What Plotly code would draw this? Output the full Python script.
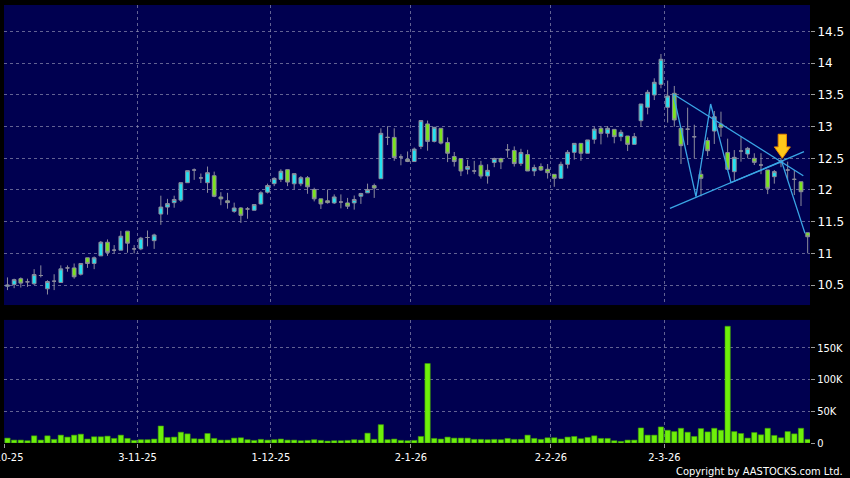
import plotly.graph_objects as go

# ---------------- data ----------------
open_ = [10.48, 10.51, 10.60, 10.55, 10.52, 10.65, 10.44, 10.56, 10.54, 10.77,
         10.77, 10.67, 10.93, 10.84, 10.96, 11.175, 11.05, 11.05, 11.35, 11.07,
         11.07, 11.25, 11.20, 11.62, 11.73, 11.80, 11.84, 12.115, 12.315, 12.19,
         12.115, 12.225, 11.89, 11.83, 11.663, 11.716, 11.70, 11.68, 11.78, 11.965,
         12.10, 12.167, 12.321, 12.098, 12.098, 12.194, 12.008, 11.86, 11.83, 11.796,
         11.81, 11.796, 11.796, 11.902, 11.955, 12.07, 12.178, 12.83, 12.83, 12.52,
         12.485, 12.449, 12.687, 13.043, 12.767, 12.974, 12.75, 12.528, 12.497, 12.327,
         12.30, 12.39, 12.22, 12.433, 12.497, 12.634, 12.624, 12.417, 12.56, 12.30,
         12.37, 12.327, 12.247, 12.184, 12.405, 12.594, 12.736, 12.58, 12.80, 12.973,
         12.894, 12.957, 12.842, 12.852, 12.72, 13.094, 13.305, 13.50, 13.668, 13.305,
         13.526, 12.973, 12.96, 12.84, 12.247, 12.78, 12.93, 13.04, 12.59, 12.289,
         12.615, 12.568, 12.50, 12.394, 12.315, 12.21, 12.43, 12.315, 12.168, 12.13,
         11.325]
high = [10.62, 10.60, 10.62, 10.60, 10.75, 10.81, 10.575, 10.67, 10.81, 10.81,
        10.84, 10.84, 10.93, 10.95, 11.195, 11.22, 11.13, 11.355, 11.35, 11.13,
        11.26, 11.36, 11.31, 11.91, 11.86, 11.91, 12.115, 12.305, 12.34, 12.26,
        12.37, 12.29, 11.965, 11.955, 11.80, 11.73, 11.73, 11.77, 11.98, 12.10,
        12.20, 12.327, 12.321, 12.258, 12.22, 12.22, 12.035, 11.86, 12.008, 11.93,
        11.93, 11.875, 11.913, 11.955, 12.10, 12.10, 12.974, 13.006, 12.974, 12.565,
        12.608, 12.67, 13.096, 13.096, 12.99, 12.974, 12.83, 12.60, 12.497, 12.475,
        12.46, 12.46, 12.406, 12.51, 12.51, 12.725, 12.688, 12.65, 12.634, 12.40,
        12.42, 12.41, 12.247, 12.447, 12.63, 12.736, 12.736, 12.79, 13.00, 13.01,
        13.01, 12.957, 12.95, 12.852, 12.90, 13.357, 13.58, 13.763, 14.147, 13.726,
        13.642, 12.973, 13.30, 13.03, 12.31, 12.83, 13.247, 13.236, 12.81, 12.63,
        12.85, 12.68, 12.58, 12.58, 12.315, 12.315, 12.50, 12.447, 12.315, 12.13,
        11.325]
low = [10.42, 10.45, 10.46, 10.47, 10.50, 10.62, 10.35, 10.42, 10.54, 10.71,
       10.60, 10.65, 10.77, 10.75, 10.96, 10.96, 11.00, 11.05, 11.01, 11.00,
       11.05, 11.11, 11.07, 11.45, 11.61, 11.72, 11.81, 12.115, 12.16, 12.11,
       11.955, 11.886, 11.76, 11.705, 11.64, 11.48, 11.546, 11.68, 11.77, 11.945,
       12.06, 12.125, 12.06, 12.01, 12.06, 11.94, 11.82, 11.70, 11.785, 11.78,
       11.71, 11.70, 11.69, 11.78, 11.955, 11.875, 12.178, 12.709, 12.46, 12.39,
       12.44, 12.449, 12.645, 12.62, 12.75, 12.72, 12.44, 12.37, 12.22, 12.247,
       12.25, 12.18, 12.10, 12.36, 12.33, 12.51, 12.37, 12.38, 12.30, 12.22,
       12.30, 12.18, 12.05, 12.184, 12.34, 12.48, 12.46, 12.58, 12.73, 12.72,
       12.83, 12.737, 12.77, 12.615, 12.72, 12.999, 13.194, 13.42, 13.605, 13.063,
       13.00, 12.41, 12.71, 12.50, 11.90, 12.536, 12.726, 12.84, 12.326, 12.147,
       12.447, 12.50, 12.394, 12.25, 11.935, 12.10, 12.36, 12.157, 11.92, 11.747,
       11.00]
close = [10.50, 10.585, 10.53, 10.55, 10.665, 10.65, 10.555, 10.56, 10.755, 10.77,
         10.63, 10.84, 10.84, 10.93, 11.175, 11.015, 11.05, 11.27, 11.16, 11.07,
         11.24, 11.25, 11.29, 11.73, 11.785, 11.85, 12.115, 12.305, 12.315, 12.19,
         12.273, 11.90, 11.86, 11.80, 11.716, 11.60, 11.70, 11.77, 11.955, 12.07,
         12.183, 12.295, 12.125, 12.258, 12.194, 12.05, 11.86, 11.78, 11.80, 11.89,
         11.81, 11.743, 11.85, 11.944, 12.008, 12.03, 12.894, 12.83, 12.512, 12.52,
         12.45, 12.645, 13.096, 12.767, 12.99, 12.74, 12.58, 12.449, 12.30, 12.37,
         12.30, 12.22, 12.31, 12.497, 12.443, 12.634, 12.417, 12.592, 12.30, 12.353,
         12.316, 12.273, 12.184, 12.405, 12.594, 12.736, 12.58, 12.79, 12.96, 12.894,
         12.973, 12.842, 12.91, 12.72, 12.842, 13.357, 13.542, 13.70, 14.063, 13.484,
         13.105, 12.70, 12.96, 12.84, 12.184, 12.62, 13.157, 12.99, 12.326, 12.515,
         12.615, 12.657, 12.436, 12.394, 12.026, 12.29, 12.46, 12.315, 12.168, 11.973,
         11.262]
volume_k = [7.7, 4.6, 4.6, 3.6, 11.3, 4.6, 11.3, 5.7, 12.4, 9.3,
            12.4, 13.9, 6.2, 9.8, 9.8, 10.8, 7.2, 12.4, 7.2, 4.1,
            5.2, 5.2, 6.2, 26.8, 8.8, 9.3, 17.0, 14.4, 6.7, 6.2,
            15.0, 7.2, 4.6, 4.6, 7.7, 8.2, 5.2, 4.1, 5.7, 4.6,
            5.2, 6.2, 4.6, 4.6, 3.6, 4.1, 5.2, 4.1, 3.1, 3.6,
            3.6, 4.1, 5.2, 4.6, 15.5, 5.7, 28.9, 5.2, 6.2, 4.1,
            3.6, 4.1, 10.3, 125.3, 7.2, 6.2, 9.3, 7.7, 7.7, 7.7,
            5.7, 5.7, 5.2, 5.7, 5.2, 7.2, 5.7, 5.7, 12.4, 7.2,
            5.7, 8.2, 8.2, 6.2, 9.3, 10.3, 6.7, 8.8, 11.3, 7.2,
            7.2, 3.6, 2.6, 4.6, 4.6, 23.7, 12.4, 12.4, 25.3, 20.1,
            18.0, 23.2, 17.0, 10.3, 22.7, 17.5, 23.2, 20.1, 184.0, 18.0,
            15.0, 7.7, 16.5, 12.9, 23.2, 11.9, 8.2, 18.0, 14.4, 23.2,
            5.7]
day_index = list(range(len(close)))

# date ticks (trading-day index of the first session of each labelled date)
tick_day = [0, 20, 40, 61, 82, 99]
tick_text = ["2-10-25", "3-11-25", "1-12-25", "2-1-26", "2-2-26", "2-3-26"]

price_ticks = [10.5, 11, 11.5, 12, 12.5, 13, 13.5, 14, 14.5]
vol_ticks = [0, 50000, 100000, 150000]
vol_tick_text = ["0", "50K", "100K", "150K"]

# hand-drawn pattern lines (day index, price)
zigzag_x = [99.85, 103.25, 105.45, 108.5, 116.1, 119.6]
zigzag_y = [13.515, 11.894, 13.357, 12.115, 12.447, 11.315]
support_x = [99.35, 119.45]
support_y = [11.71, 12.604]
resist_x = [99.85, 119.35]
resist_y = [13.515, 12.225]
arrow_day = 116.2
arrow_top, arrow_neck, arrow_tip = 12.88, 12.68, 12.50

# ---------------- figure ----------------
NAVY = "#000050"
GRID = "rgba(140,140,175,0.7)"
LINE_BLUE = "#3aa6e6"
font_main = "DejaVu Sans Condensed, DejaVu Sans, sans-serif"

fig = go.Figure()

fig.add_trace(go.Candlestick(
    x=day_index, open=open_, high=high, low=low, close=close,
    xaxis="x2", yaxis="y2",
    increasing=dict(fillcolor="#22e2f2", line=dict(color="#8c8c9c", width=1)),
    decreasing=dict(fillcolor="#7ae41e", line=dict(color="#8c8c9c", width=1)),
    whiskerwidth=0, hoverinfo="skip", showlegend=False,
))

vol = [v * 1000 for v in volume_k]
fig.add_trace(go.Bar(
    x=day_index, y=vol, xaxis="x", yaxis="y",
    marker=dict(color="#6ef00a", line=dict(color="#3c9a08", width=0.6)),
    width=0.8, hoverinfo="skip", showlegend=False,
))

for xs, ys in [(zigzag_x, zigzag_y), (support_x, support_y), (resist_x, resist_y)]:
    fig.add_trace(go.Scatter(
        x=xs, y=ys, mode="lines", xaxis="x2", yaxis="y2",
        line=dict(color=LINE_BLUE, width=1.3), hoverinfo="skip", showlegend=False,
    ))

# arrow
sw, hw = 0.62, 1.2
path = (f"M {arrow_day - sw} {arrow_top} L {arrow_day + sw} {arrow_top} "
        f"L {arrow_day + sw} {arrow_neck} L {arrow_day + hw} {arrow_neck} "
        f"L {arrow_day} {arrow_tip} L {arrow_day - hw} {arrow_neck} "
        f"L {arrow_day - sw} {arrow_neck} Z")
fig.add_shape(type="path", path=path, xref="x2", yref="y2",
              fillcolor="#ffc81a", line=dict(color="#e88a00", width=1))

xr = [-0.52, 120.35]
tickvals_x = [d - 0.5 for d in tick_day]

fig.update_layout(
    width=850, height=478,
    paper_bgcolor="#000000", plot_bgcolor=NAVY,
    margin=dict(l=4, r=40, t=5, b=35, autoexpand=False),
    font=dict(family=font_main, color="#ffffff", size=11),
    bargap=0, boxgap=0.2,
    xaxis=dict(
        range=xr, domain=[0, 1], anchor="y",
        tickvals=tickvals_x, ticktext=tick_text, ticklabeloverflow="allow",
        showgrid=True, gridcolor=GRID, griddash="3px,3px", gridwidth=1,
        ticks="outside", ticklen=4, tickcolor="#9a9a9a",
        zeroline=False, showline=False, tickfont=dict(size=11),
        automargin=False,
    ),
    xaxis2=dict(
        range=xr, domain=[0, 1], anchor="y2", matches="x",
        tickvals=tickvals_x, showticklabels=False,
        showgrid=True, gridcolor=GRID, griddash="3px,3px", gridwidth=1,
        zeroline=False, showline=False, rangeslider=dict(visible=False),
        automargin=False,
    ),
    yaxis=dict(
        domain=[0, 0.281], range=[0, 194000], side="right",
        tickvals=vol_ticks, ticktext=vol_tick_text,
        showgrid=True, gridcolor=GRID, griddash="3px,3px",
        ticks="outside", ticklen=4, tickcolor="#9a9a9a",
        zeroline=False, tickfont=dict(size=11), automargin=False,
    ),
    yaxis2=dict(
        domain=[0.315, 1], range=[10.184, 14.92], side="right",
        tickvals=price_ticks, ticktext=[f"{t:g}" for t in price_ticks],
        showgrid=True, gridcolor=GRID, griddash="3px,3px",
        ticks="outside", ticklen=4, tickcolor="#9a9a9a",
        zeroline=False, automargin=False,
        tickfont=dict(size=12, family="DejaVu Sans, sans-serif"),
    ),
    hovermode=False,
)

fig.add_annotation(text="Copyright by AASTOCKS.com Ltd.", xref="paper", yref="paper",
                   x=1.043, y=-0.064, xanchor="right", yanchor="middle",
                   showarrow=False, font=dict(size=11, color="#ffffff", family=font_main))

fig.write_html("out.html",
               config={"displayModeBar": False, "staticPlot": True},
               post_script="document.body.style.margin='0px';document.body.style.background='#000';")
